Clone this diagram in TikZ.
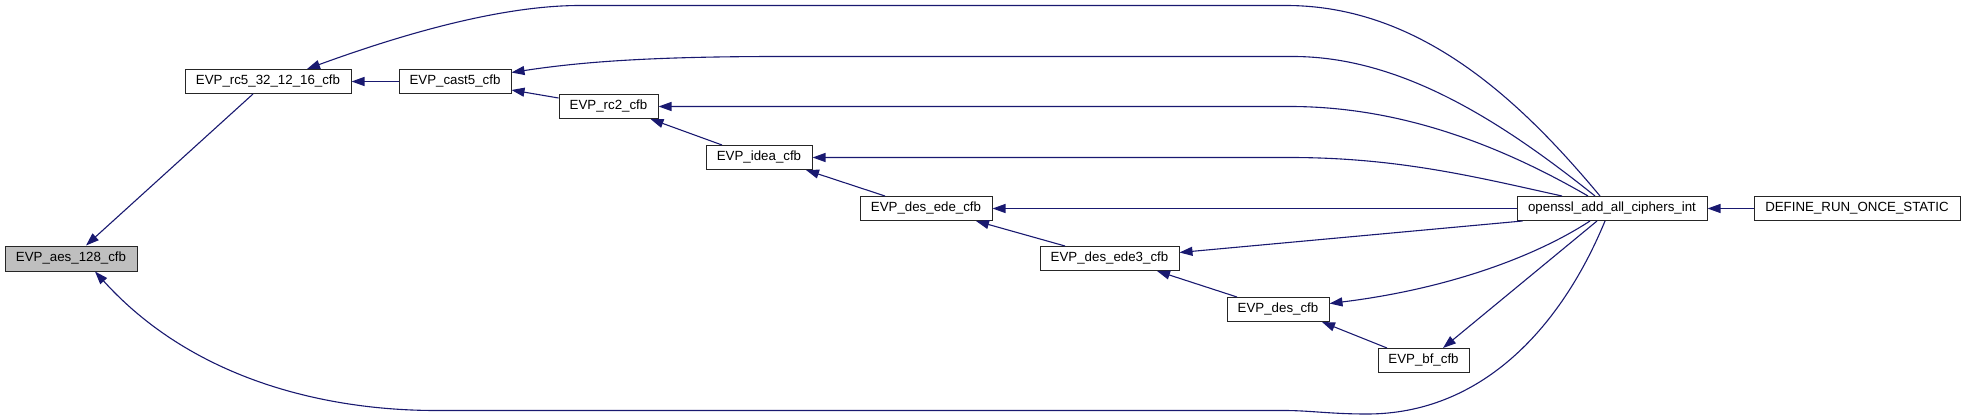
\documentclass[tikz,border=0pt]{standalone}
\usepackage{fontspec}
\setmainfont{Liberation Sans}
\usetikzlibrary{arrows.meta}
\definecolor{edgeblue}{RGB}{25,25,112}
\definecolor{focusgray}{RGB}{191,191,191}
\begin{document}
\begin{tikzpicture}[x=1pt,y=-1pt,
  fn/.style={draw=black!85, line width=1pt, fill=white, minimum height=24pt, inner sep=0pt, font=\fontsize{13.3}{16}\selectfont},
  link/.style={draw=edgeblue, line width=1.1pt, -{Triangle[length=13pt,width=9pt]}}]
\useasboundingbox (0,0) rectangle (1966,420);
\node[fn, fill=focusgray, minimum width=132pt, minimum height=25pt] (aes) at (71,258.5) {EVP\_aes\_128\_cfb};
\node[fn, minimum width=166pt] (rc5) at (268,81.5) {EVP\_rc5\_32\_12\_16\_cfb};
\node[fn, minimum width=112pt] (cast5) at (455,81.5) {EVP\_cast5\_cfb};
\node[fn, minimum width=99pt] (rc2) at (608.5,106.5) {EVP\_rc2\_cfb};
\node[fn, minimum width=106pt] (idea) at (759,157.5) {EVP\_idea\_cfb};
\node[fn, minimum width=132pt] (desede) at (926,208.5) {EVP\_des\_ede\_cfb};
\node[fn, minimum width=139pt] (desede3) at (1109.5,258.5) {EVP\_des\_ede3\_cfb};
\node[fn, minimum width=102pt] (descfb) at (1278,309.5) {EVP\_des\_cfb};
\node[fn, minimum width=91pt] (bf) at (1423.5,360.5) {EVP\_bf\_cfb};
\node[fn, minimum width=190pt] (openssl) at (1612,208.5) {openssl\_add\_all\_ciphers\_int};
\node[fn, minimum width=206pt] (define) at (1857,208.5) {DEFINE\_RUN\_ONCE\_STATIC};

\draw[link] (cast5.west) -- (rc5.east);
\draw[link] ([xshift=-15pt]rc5.south) -- ([xshift=15pt]aes.north);
\draw[link] ([yshift=-4pt]rc2.north west) -- ([yshift=4pt]cast5.south east);
\draw[link] ([xshift=-37pt]idea.north) -- ([xshift=42pt]rc2.south);
\draw[link] ([xshift=-41pt]desede.north) -- ([xshift=47pt]idea.south);
\draw[link] ([xshift=-44.5pt]desede3.north) -- ([xshift=50pt]desede.south);
\draw[link] ([xshift=-41pt]descfb.north) -- ([xshift=47.5pt]desede3.south);
\draw[link] ([xshift=-36.5pt]bf.north) -- ([xshift=44pt]descfb.south);
\draw[link] (define.west) -- (openssl.east);

\draw[link] ([xshift=-12pt]openssl.north) .. controls (1520,100) and (1420,5.5) .. (1286,5.5) -- (580,5.5) .. controls (500,5.5) and (400,35) .. ([xshift=39pt]rc5.north);
\draw[link] ([xshift=-17pt]openssl.north) .. controls (1500,120) and (1400,56.5) .. (1293,56.5) -- (780,56.5) .. controls (650,56.5) and (580,62) .. ([yshift=9pt]cast5.east);
\draw[link] ([xshift=-24pt]openssl.north) .. controls (1500,145) and (1400,106.5) .. (1290,106.5) -- (rc2.east);
\draw[link] ([xshift=-50pt]openssl.north) .. controls (1480,178) and (1400,157.5) .. (1290,157.5) -- (idea.east);
\draw[link] (openssl.west) -- (desede.east);
\draw[link] ([xshift=6pt]openssl.south west) -- ([yshift=6pt]desede3.east);
\draw[link] ([xshift=-22pt]openssl.south) .. controls (1530,260) and (1440,290) .. ([yshift=6pt]descfb.east);
\draw[link] ([xshift=-15pt]openssl.south) -- ([xshift=19.5pt]bf.north);
\draw[link] ([xshift=-7pt]openssl.south) .. controls (1560,330) and (1480,414) .. (1367,414) .. controls (1330,414) and (1310,410.5) .. (1284,410.5) -- (436,410.5) .. controls (330,410.5) and (195,382) .. ([xshift=24pt]aes.south);
\end{tikzpicture}
\end{document}
